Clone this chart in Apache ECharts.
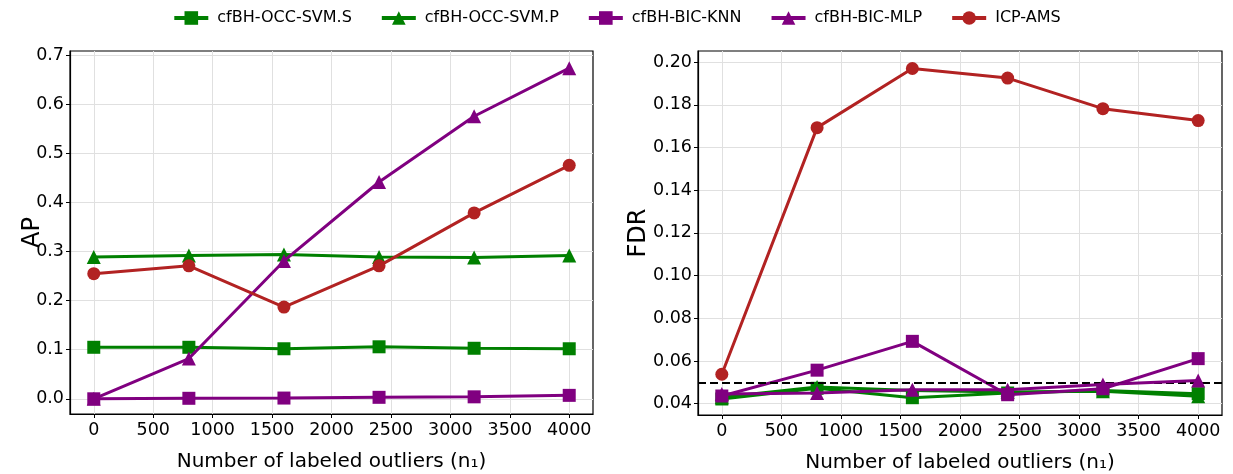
<!DOCTYPE html>
<html>
<head>
<meta charset="utf-8">
<script src="https://cdn.jsdelivr.net/npm/echarts@6/dist/echarts.min.js"></script>
<style>html,body{margin:0;padding:0;background:#fff}#c{width:1233px;height:474px}</style>
</head>
<body>
<div id="c"></div>
<script>
// ---- data ----
const nLabeled = [0, 800, 1600, 2400, 3200, 4000];
const xTicks = [0, 500, 1000, 1500, 2000, 2500, 3000, 3500, 4000];
const apTicks = [0, 0.1, 0.2, 0.3, 0.4, 0.5, 0.6, 0.7];
const fdrTicks = [0.04, 0.06, 0.08, 0.10, 0.12, 0.14, 0.16, 0.18, 0.20];
const seriesNames = ['cfBH-OCC-SVM.S', 'cfBH-OCC-SVM.P', 'cfBH-BIC-KNN', 'cfBH-BIC-MLP', 'ICP-AMS'];

const ap_svmS = [0.105, 0.105, 0.102, 0.106, 0.103, 0.102];
const ap_svmP = [0.289, 0.292, 0.294, 0.289, 0.288, 0.292];
const ap_knn  = [0.000, 0.001, 0.0015, 0.003, 0.004, 0.007];
const ap_mlp  = [0.000, 0.082, 0.281, 0.442, 0.576, 0.674];
const ap_icp  = [0.255, 0.271, 0.187, 0.271, 0.379, 0.476];

const fdr_svmS = [0.0422, 0.0472, 0.0428, 0.0450, 0.0462, 0.0447];
const fdr_svmP = [0.0430, 0.0478, 0.0462, 0.0455, 0.0458, 0.0435];
const fdr_knn  = [0.0436, 0.0557, 0.0692, 0.0442, 0.0470, 0.0611];
const fdr_mlp  = [0.0445, 0.0450, 0.0465, 0.0465, 0.0490, 0.0509];
const fdr_icp  = [0.0538, 0.1693, 0.1970, 0.1925, 0.1782, 0.1726];
const fdrTarget = 0.05;

// ---- styling ----
const colors = ['#008000', '#008000', '#800080', '#800080', '#b22222'];
const symbols = ['rect', 'triangle', 'rect', 'triangle', 'circle'];
const symSizes = [13, 14, 13, 14, 13];
const FONT = 'DejaVu Sans';

const chart = echarts.init(document.getElementById('c'), null, {renderer: 'canvas'});

function pairs(ys) { return nLabeled.map((x, i) => [x, ys[i]]); }

function mkX(idx) {
  return {
    type: 'value', gridIndex: idx, min: -200, max: 4200,
    name: 'Number of labeled outliers (n₁)', nameLocation: 'middle', nameGap: 38,
    nameMoveOverlap: false,
    nameTextStyle: {fontFamily: FONT, fontSize: 20, color: '#000'},
    axisLine: {show: true, onZero: false, lineStyle: {color: '#000', width: 1.2}},
    axisTick: {show: true, length: 4, customValues: xTicks, lineStyle: {color: '#000', width: 1}},
    axisLabel: {customValues: xTicks, fontFamily: FONT, fontSize: 17.5, color: '#000', margin: 7,
      formatter: v => String(Math.round(v))},
    splitLine: {show: true, lineStyle: {color: '#e0e0e0', width: 1}}
  };
}
function mkY(idx, min, max, ticks, dec, name, gap) {
  return {
    type: 'value', gridIndex: idx, min: min, max: max,
    name: name, nameLocation: 'middle', nameGap: gap, nameRotate: 90,
    nameMoveOverlap: false,
    nameTextStyle: {fontFamily: FONT, fontSize: 24, color: '#000'},
    axisLine: {show: true, onZero: false, lineStyle: {color: '#000', width: 1.2}},
    axisTick: {show: true, length: 4, customValues: ticks, lineStyle: {color: '#000', width: 1}},
    axisLabel: {customValues: ticks, fontFamily: FONT, fontSize: 17.5, color: '#000', margin: 6,
      formatter: v => v.toFixed(dec)},
    splitLine: {show: true, lineStyle: {color: '#e0e0e0', width: 1}}
  };
}

const apData = [ap_svmS, ap_svmP, ap_knn, ap_mlp, ap_icp];
const fdrData = [fdr_svmS, fdr_svmP, fdr_knn, fdr_mlp, fdr_icp];
const series = [];
[apData, fdrData].forEach((set, g) => {
  set.forEach((ys, i) => {
    const s = {
      name: seriesNames[i], type: 'line', xAxisIndex: g, yAxisIndex: g,
      data: pairs(ys), symbol: symbols[i], symbolSize: symSizes[i],
      showAllSymbol: true, animation: false, z: 2 + i,
      itemStyle: {color: colors[i]},
      lineStyle: {color: colors[i], width: 3}
    };
    if (g === 1 && i === 1) {
      s.markLine = {
        silent: true, symbol: 'none', label: {show: false}, animation: false,
        lineStyle: {color: '#000', type: [8, 4], width: 2},
        data: [{yAxis: fdrTarget}]
      };
    }
    series.push(s);
  });
});

chart.setOption({
  animation: false,
  backgroundColor: '#fff',
  color: colors,
  legend: {
    top: 5, left: 'center', itemWidth: 34, itemHeight: 17, itemGap: 28,
    lineStyle: {width: 4},
    textStyle: {fontFamily: FONT, fontSize: 16, color: '#000', padding: [0, 0, 0, 4]},
    data: seriesNames
  },
  grid: [
    {left: 70, top: 51, width: 523, height: 363, show: true, borderColor: '#000', borderWidth: 1.2,
     backgroundColor: 'transparent', containLabel: false, outerBoundsMode: 'none'},
    {left: 698, top: 51, width: 524, height: 364, show: true, borderColor: '#000', borderWidth: 1.2,
     backgroundColor: 'transparent', containLabel: false, outerBoundsMode: 'none'}
  ],
  xAxis: [mkX(0), mkX(1)],
  yAxis: [
    mkY(0, -0.031, 0.709, apTicks, 1, 'AP', 25),
    mkY(1, 0.0347, 0.2052, fdrTicks, 2, 'FDR', 47)
  ],
  series: series
});
</script>
</body>
</html>
